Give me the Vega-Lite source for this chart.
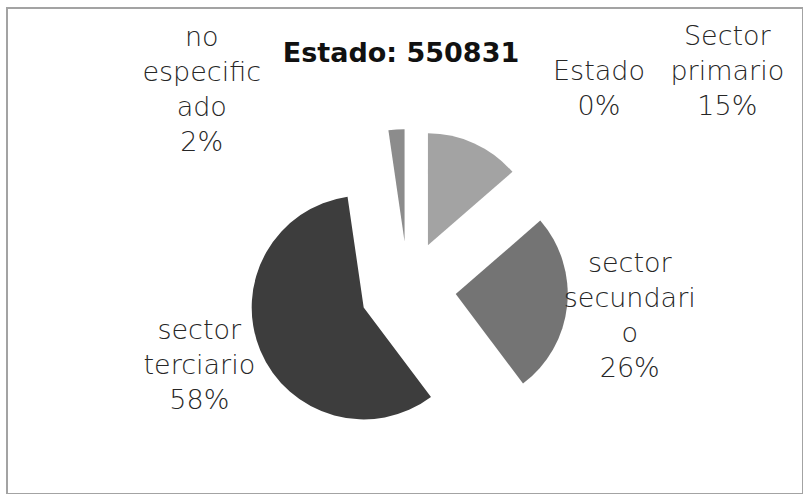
{
  "$schema": "https://vega.github.io/schema/vega-lite/v6.json",
  "width": 796,
  "height": 486,
  "autosize": {"type": "none"},
  "padding": {"left": 7, "top": 8, "right": 0, "bottom": 0},
  "background": "white",
  "view": {"stroke": "#a3a3a3", "strokeWidth": 2},
  "config": {"view": {"stroke": "#a3a3a3", "strokeWidth": 2}},
  "title": {
    "text": "Estado: 550831",
    "font": "DejaVu Sans",
    "fontSize": 27,
    "fontWeight": "bold",
    "color": "#111111",
    "anchor": "middle",
    "frame": "group",
    "offset": -54,
    "baseline": "alphabetic",
    "dx": -4,
    "dy": 27
  },
  "data": {
    "values": [
      {"sector": "Sector primario", "value": 13.6, "orden": 1, "label": "Sector\nprimario\n15%"},
      {"sector": "sector secundario", "value": 26.1, "orden": 2, "label": "sector\nsecundari\no\n26%"},
      {"sector": "sector terciario", "value": 57.9, "orden": 3, "label": "sector\nterciario\n58%"},
      {"sector": "no especificado", "value": 2.3, "orden": 4, "label": "no\nespecific\nado\n2%"},
      {"sector": "Estado", "value": 0, "orden": 5, "label": "Estado\n0%"}
    ]
  },
  "layer": [
    {
      "mark": {
        "type": "arc",
        "outerRadius": 112,
        "xOffset": {"expr": "3 + 48*sin(scale('theta', (datum.value_start + datum.value_end)/2))"},
        "yOffset": {"expr": "38 - 48*cos(scale('theta', (datum.value_start + datum.value_end)/2))"}
      },
      "encoding": {
        "theta": {"field": "value", "type": "quantitative", "stack": true},
        "order": {"field": "orden", "type": "quantitative"},
        "color": {
          "field": "sector",
          "type": "nominal",
          "scale": {
            "domain": ["Sector primario", "sector secundario", "sector terciario", "no especificado", "Estado"],
            "range": ["#a3a3a3", "#747474", "#3d3d3d", "#8c8c8c", "#5a5a5a"]
          },
          "legend": null
        }
      }
    },
    {
      "mark": {
        "type": "text",
        "font": "DejaVu Sans",
        "fontSize": 27,
        "fontWeight": 300,
        "lineBreak": "\n",
        "lineHeight": 35,
        "radius": 225,
        "align": "center",
        "baseline": "middle",
        "color": "#262626",
        "dx": {"expr": "datum.sector == 'Sector primario' ? 229 : datum.sector == 'Estado' ? 194 : datum.sector == 'no especificado' ? -187 : datum.sector == 'sector secundario' ? 1 : 2"},
        "dy": {"expr": "datum.sector == 'Sector primario' ? -9 : datum.sector == 'Estado' ? 46 : datum.sector == 'no especificado' ? 11 : datum.sector == 'sector secundario' ? -11 : -7"}
      },
      "encoding": {
        "theta": {"field": "value", "type": "quantitative", "stack": true},
        "order": {"field": "orden", "type": "quantitative"},
        "text": {"field": "label", "type": "nominal"}
      }
    }
  ]
}
